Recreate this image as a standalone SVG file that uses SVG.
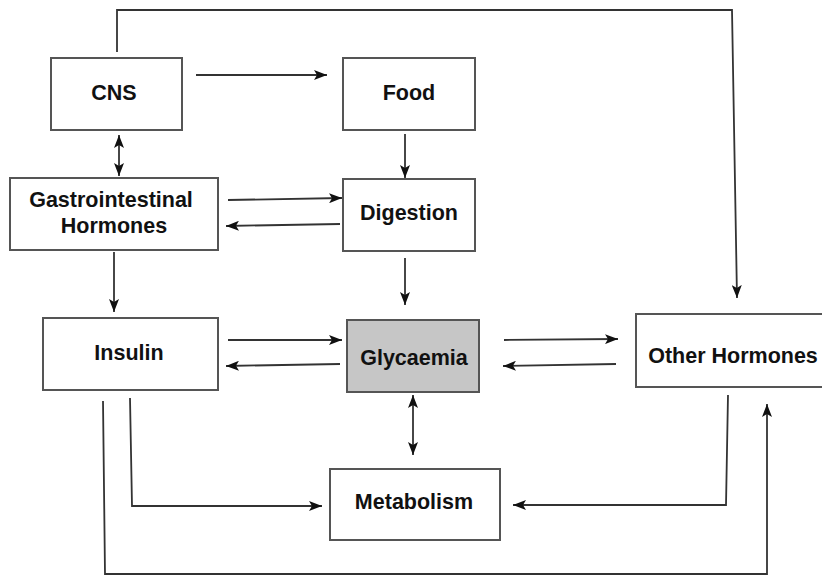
<svg xmlns="http://www.w3.org/2000/svg" width="822" height="576" viewBox="0 0 822 576">
<defs>
<style>
.box{fill:#fff;stroke:#555;stroke-width:2}
.grey{fill:#c6c6c6}
.lbl{font-family:"Liberation Sans",Arial,sans-serif;font-weight:bold;font-size:21.5px;fill:#111;text-anchor:middle}
.c{fill:none;stroke:#333;stroke-width:1.8}
</style>
<marker id="ah" viewBox="0 0 13 10" refX="13" refY="5" markerWidth="13" markerHeight="10" markerUnits="userSpaceOnUse" orient="auto-start-reverse">
<path d="M0,0 L13,5 L0,10 L3,5 Z" fill="#111"/>
</marker>
</defs>
<rect width="822" height="576" fill="#fff"/>
<g id="connectors">
<path class="c" d="M117,52 V10 H732 L737,298" marker-end="url(#ah)"/>
<path class="c" d="M196,75 H327" marker-end="url(#ah)"/>
<path class="c" d="M119,135 V176" marker-start="url(#ah)" marker-end="url(#ah)"/>
<path class="c" d="M405,134 V178" marker-end="url(#ah)"/>
<path class="c" d="M228,200 L342,198" marker-end="url(#ah)"/>
<path class="c" d="M340,224 L226,226" marker-end="url(#ah)"/>
<path class="c" d="M114,252 V312" marker-end="url(#ah)"/>
<path class="c" d="M405,258 V305" marker-end="url(#ah)"/>
<path class="c" d="M228,340 H342" marker-end="url(#ah)"/>
<path class="c" d="M340,364 L226,366" marker-end="url(#ah)"/>
<path class="c" d="M413,395 V455" marker-start="url(#ah)" marker-end="url(#ah)"/>
<path class="c" d="M504,340 L618,339" marker-end="url(#ah)"/>
<path class="c" d="M616,364 L503,366" marker-end="url(#ah)"/>
<path class="c" d="M130,398 L132,506 H322" marker-end="url(#ah)"/>
<path class="c" d="M728,395 L726,505 H513" marker-end="url(#ah)"/>
<path class="c" d="M103,401 L105,574 H767 V404" marker-end="url(#ah)"/>
</g>
<g id="cns"><rect class="box" x="51" y="58" width="131" height="72"/><text class="lbl" x="114" y="100">CNS</text></g>
<g id="food"><rect class="box" x="343" y="58" width="132" height="72"/><text class="lbl" x="409" y="100">Food</text></g>
<g id="gi"><rect class="box" x="10" y="178" width="208" height="72"/><text class="lbl" x="111" y="207">Gastrointestinal</text><text class="lbl" x="114" y="233">Hormones</text></g>
<g id="digestion"><rect class="box" x="343" y="179" width="132" height="72"/><text class="lbl" x="409" y="220">Digestion</text></g>
<g id="insulin"><rect class="box" x="43" y="318" width="175" height="72"/><text class="lbl" x="129" y="360">Insulin</text></g>
<g id="glycaemia"><rect class="box grey" x="347" y="320" width="132" height="72"/><text class="lbl" x="414" y="365">Glycaemia</text></g>
<g id="other"><rect class="box" x="636" y="314" width="190" height="73"/><text class="lbl" x="733" y="363">Other Hormones</text></g>
<g id="metabolism"><rect class="box" x="330" y="469" width="170" height="71"/><text class="lbl" x="414" y="509">Metabolism</text></g>
</svg>
